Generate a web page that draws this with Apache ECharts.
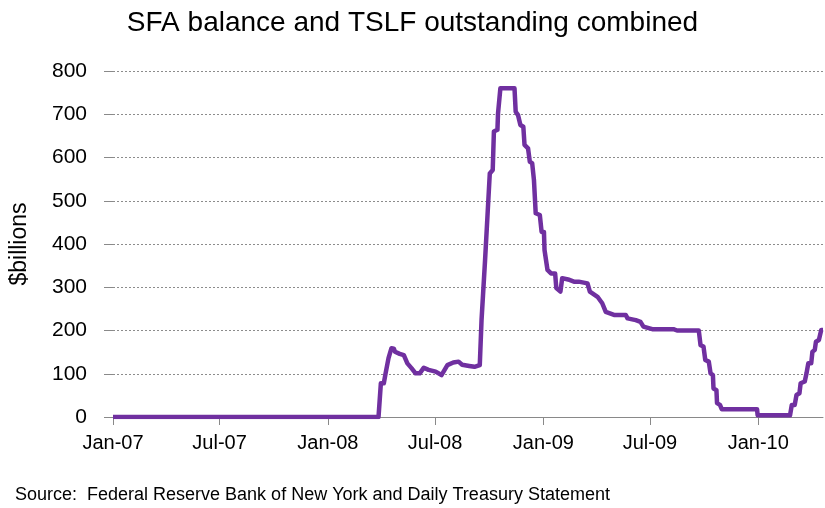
<!DOCTYPE html>
<html>
<head>
<meta charset="utf-8">
<script src="https://cdn.jsdelivr.net/npm/echarts@6/dist/echarts.min.js"></script>
<style>
  html, body { margin: 0; padding: 0; background: #fff; }
  #chart { width: 825px; height: 508px; }
</style>
</head>
<body>
<div id="chart"></div>
<script>
// dates of the corners of the balance line
const dates = [
  '2007-01-01', '2008-03-27', '2008-03-31', '2008-04-05', '2008-04-08', '2008-04-11',
  '2008-04-13', '2008-04-16', '2008-04-18', '2008-04-22', '2008-04-24', '2008-05-02',
  '2008-05-09', '2008-05-15', '2008-05-22', '2008-05-29', '2008-06-05', '2008-06-12',
  '2008-06-20', '2008-07-02', '2008-07-12', '2008-07-22', '2008-08-01', '2008-08-10',
  '2008-08-16', '2008-08-28', '2008-09-06', '2008-09-15', '2008-09-18', '2008-09-24',
  '2008-09-28', '2008-10-02', '2008-10-07', '2008-10-09', '2008-10-15', '2008-10-16',
  '2008-10-20', '2008-11-13', '2008-11-15', '2008-11-19', '2008-11-23', '2008-11-28',
  '2008-11-30', '2008-12-06', '2008-12-09', '2008-12-13', '2008-12-16', '2008-12-19',
  '2008-12-26', '2008-12-29', '2009-01-02', '2009-01-03', '2009-01-06', '2009-01-08',
  '2009-01-14', '2009-01-21', '2009-01-23', '2009-01-30', '2009-02-02', '2009-02-12',
  '2009-02-22', '2009-03-02', '2009-03-17', '2009-03-21', '2009-04-03', '2009-04-11',
  '2009-04-17', '2009-05-01', '2009-05-21', '2009-05-24', '2009-06-07', '2009-06-15',
  '2009-06-20', '2009-07-05', '2009-08-10', '2009-08-16', '2009-09-22', '2009-09-25',
  '2009-09-30', '2009-10-03', '2009-10-09', '2009-10-12', '2009-10-16', '2009-10-17',
  '2009-10-22', '2009-10-23', '2009-10-28', '2009-10-31', '2009-12-30', '2009-12-31',
  '2010-02-24', '2010-02-27', '2010-03-04', '2010-03-07', '2010-03-12', '2010-03-14',
  '2010-03-21', '2010-03-24', '2010-03-27', '2010-04-01', '2010-04-03', '2010-04-07',
  '2010-04-09', '2010-04-14', '2010-04-18', '2010-04-21'
]
// $ billions
const balance = [
  0, 0, 78, 78, 101, 101,
  136, 136, 159, 158, 151, 146,
  143, 124, 113, 101, 101, 114,
  109, 105, 97, 120, 126, 128,
  121, 118, 116, 120, 224, 363,
  463, 563, 571, 660, 664, 702,
  760, 760, 706, 698, 675, 671,
  629, 621, 590, 587, 548, 471,
  467, 428, 428, 386, 382, 340,
  332, 332, 298, 290, 321, 318,
  313, 313, 309, 290, 278, 263,
  243, 236, 236, 228, 224, 220,
  209, 203, 203, 200, 200, 166,
  163, 132, 128, 101, 97, 66,
  62, 32, 28, 18, 18, 4,
  4, 28, 28, 51, 55, 78,
  82, 101, 124, 124, 151, 155,
  174, 178, 201, 201
]
const tickDates = ['2007-01-01', '2007-07-01', '2008-01-01', '2008-07-01', '2009-01-01', '2009-07-01', '2010-01-01']
const monthNames = ['Jan', 'Feb', 'Mar', 'Apr', 'May', 'Jun', 'Jul', 'Aug', 'Sep', 'Oct', 'Nov', 'Dec']

// dates -> ms timestamps (UTC), the x axis is a plain value axis on these
const toTime = s => {
  const p = s.split('-')
  return Date.UTC(+p[0], +p[1] - 1, +p[2])
}
const tickValues = tickDates.map(toTime)
const seriesData = dates.map((d, i) => [toTime(d), balance[i]])

const chart = echarts.init(document.getElementById('chart'))
const font = 'Liberation Sans'

chart.setOption({
  animation: false,
  title: {
    text: 'SFA balance and TSLF outstanding combined',
    left: 'center',
    top: 4,
    textStyle: { fontFamily: font, fontSize: 28, fontWeight: 'normal', color: '#000' }
  },
  grid: { left: 110, right: 2, top: 71, bottom: 91 },
  xAxis: {
    type: 'value',
    min: toTime('2007-01-01'),
    max: toTime('2010-04-21'),
    axisLine: { onZero: false, lineStyle: { color: '#898989', width: 1 } },
    axisTick: { show: true, length: 8, customValues: tickValues, lineStyle: { color: '#898989' } },
    axisLabel: {
      customValues: tickValues,
      margin: 16,
      fontFamily: font,
      fontSize: 20,
      color: '#000',
      formatter: v => {
        const d = new Date(v)
        return monthNames[d.getUTCMonth()] + '-' + String(d.getUTCFullYear()).slice(2)
      }
    },
    splitLine: { show: false }
  },
  yAxis: {
    type: 'value',
    min: 0,
    max: 800,
    interval: 100,
    name: '$billions',
    nameLocation: 'middle',
    nameGap: 82,
    nameTextStyle: { fontFamily: font, fontSize: 23, color: '#000' },
    axisLine: { show: false },
    axisTick: { show: true, length: 9, lineStyle: { color: '#898989' } },
    axisLabel: { margin: 26, fontFamily: font, fontSize: 21, color: '#000' },
    splitLine: { lineStyle: { color: '#8c8c8c', type: [2, 2], width: 1 } }
  },
  series: [{
    type: 'line',
    data: seriesData,
    showSymbol: false,
    lineStyle: { color: '#7030A0', width: 4.5, join: 'round' }
  }],
  graphic: [{
    type: 'text',
    left: 15,
    top: 486,
    style: {
      text: 'Source:  Federal Reserve Bank of New York and Daily Treasury Statement',
      font: '18px "Liberation Sans"',
      fill: '#000'
    }
  }]
})
</script>
</body>
</html>
